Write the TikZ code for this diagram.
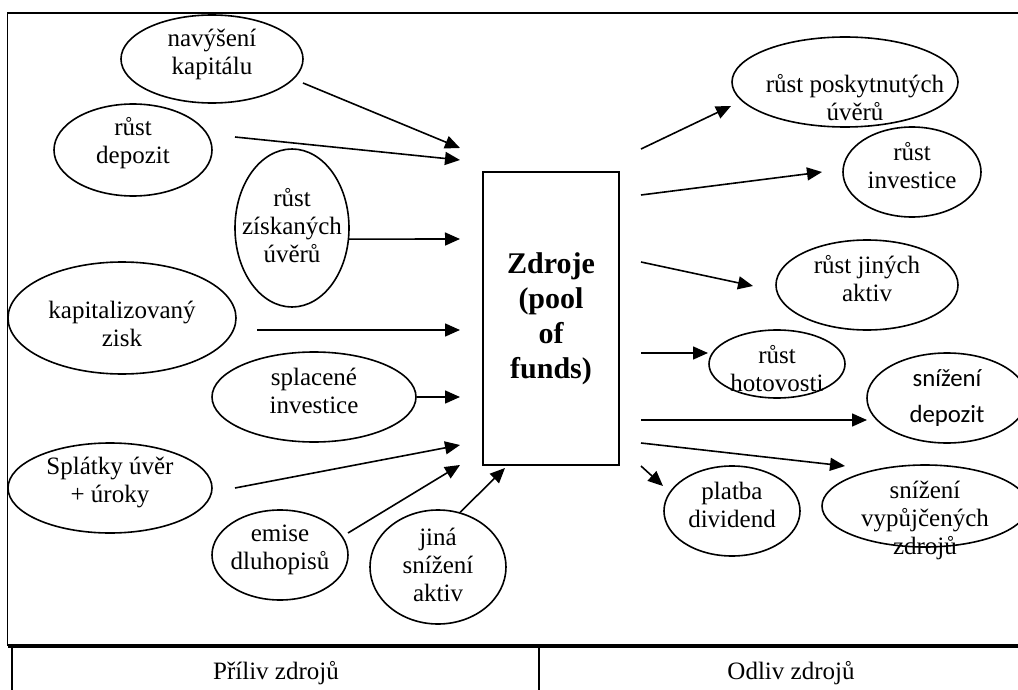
\documentclass[tikz,border=0pt]{standalone}
\usepackage{fontspec}
\setmainfont{Liberation Serif}
\newfontfamily\calibrifont{Carlito}
\usetikzlibrary{arrows.meta,shapes.geometric}

\begin{document}
\begin{tikzpicture}[x=0.5pt,y=-0.5pt]
\tikzstyle{flow}=[draw, ellipse, line width=0.8pt, inner sep=0pt]
\tikzstyle{flowtext}=[font=\fontsize{12.5}{14}\selectfont, align=center, inner sep=0pt]
\tikzstyle{sanstext}=[font=\calibrifont\fontsize{12.4}{18}\selectfont, align=center, inner sep=0pt]
\tikzstyle{pool}=[draw, line width=0.8pt, minimum width=68pt, minimum height=146.5pt, font=\fontsize{15}{17.5}\selectfont\bfseries, align=center]
\tikzstyle{line}=[draw, line width=0.8pt, -{Triangle[length=7.5pt,width=6.5pt]}]
\tikzstyle{caption}=[font=\fontsize{12.5}{14}\selectfont]

\useasboundingbox (0,0) rectangle (1018,690);
\clip (0,0) rectangle (1018,690);

% Frame and table
\draw[line width=0.9pt] (1018,12.7) -- (7.5,12.7) -- (7.5,646);
\draw[line width=1.6pt] (7.5,646) -- (1018,646);
\draw[line width=0.8pt] (12,646) -- (12,690);
\draw[line width=0.8pt] (539,646) -- (539,690);
\node[caption] (priliv) at (276,673) {Příliv zdrojů};
\node[caption] (odliv) at (791,673) {Odliv zdrojů};

% Pool of funds
\node[pool] (zdroje) at (551,318.5) {Zdroje\\(pool\\of\\funds)};

% Inflows
\node[flow, minimum width=91pt, minimum height=44pt, label={[flowtext, yshift=2.5pt]center:{navýšení\\kapitálu}}] (navyseni) at (212,59) {};
\node[flow, minimum width=79pt, minimum height=46pt, label={[flowtext, yshift=3.5pt]center:{růst\\depozit}}] (depozit) at (133,150) {};
\node[flow, minimum width=57pt, minimum height=79pt, label={[flowtext, yshift=1pt]center:{růst\\získaných\\úvěrů}}] (ziskane) at (292,228) {};
\node[flow, minimum width=114pt, minimum height=56pt, label={[flowtext, yshift=-3pt]center:{kapitalizovaný\\zisk}}] (zisk) at (122,318) {};
\node[flow, minimum width=102pt, minimum height=45pt, label={[flowtext, yshift=3pt]center:{splacené\\investice}}] (splacene) at (314,397) {};
\node[flow, minimum width=102pt, minimum height=45pt, label={[flowtext, yshift=3pt]center:{Splátky úvěr\\+ úroky}}] (splatky) at (110,488) {};
\node[flow, minimum width=68pt, minimum height=45pt, label={[flowtext, yshift=2.5pt]center:{emise\\dluhopisů}}] (emise) at (280,555) {};
\node[flow, minimum width=68pt, minimum height=57pt, label={[flowtext, yshift=1pt]center:{jiná\\snížení\\aktiv}}] (jina) at (438,567) {};

% Outflows
\node[flow, minimum width=113pt, minimum height=45pt, label={[flowtext, xshift=5pt, yshift=-8pt]center:{růst poskytnutých\\úvěrů}}] (poskytnute) at (845,82) {};
\node[flow, minimum width=69pt, minimum height=45pt, label={[flowtext, yshift=3pt]center:{růst\\investice}}] (investice) at (912,172) {};
\node[flow, minimum width=91pt, minimum height=45pt, label={[flowtext, yshift=3pt]center:{růst jiných\\aktiv}}] (aktiva) at (867,285) {};
\node[flow, minimum width=68pt, minimum height=34pt, label={[flowtext, yshift=-2.5pt]center:{růst\\hotovosti}}] (hotovost) at (777,364) {};
\node[flow, minimum width=80pt, minimum height=45pt, label={[sanstext]center:{snížení\\depozit}}] (snizenidep) at (947,398) {};
\node[flow, minimum width=68pt, minimum height=45pt, label={[flowtext, yshift=3pt]center:{platba\\dividend}}] (dividenda) at (732,511) {};
\node[flow, minimum width=103pt, minimum height=41pt, label={[flowtext, yshift=-7pt]center:{snížení\\vypůjčených\\zdrojů}}] (vypujcene) at (925,506) {};

% Arrow ends
\coordinate (navyseniA) at (303,83);
\coordinate (depozitA) at (235,137);
\coordinate (ziskA) at (257,330);
\coordinate (splatkyA) at (235,488);
\coordinate (emiseA) at (348,533);
\coordinate (in1) at (460,148);
\coordinate (in2) at (460,160);
\coordinate (in3) at (460,239);
\coordinate (in4) at (460,330);
\coordinate (in5) at (460,397);
\coordinate (in6) at (460,445);
\coordinate (in7) at (460,465);
\coordinate (in8) at (505,468);
\coordinate (out1) at (641,149);
\coordinate (out2) at (641,195);
\coordinate (out3) at (641,262);
\coordinate (out4) at (641,353);
\coordinate (out5) at (641,420);
\coordinate (out6) at (641,443);
\coordinate (out7) at (641,466);
\coordinate (poskytnuteA) at (731,106);
\coordinate (investiceA) at (822,172);
\coordinate (aktivaA) at (753,286);
\coordinate (hotovostA) at (708,353);
\coordinate (snizenidepA) at (867,420);
\coordinate (vypujceneA) at (845,466);
\coordinate (dividendaA) at (663,486);

% Inflow arrows
\draw[line] (navyseniA) -- (in1);
\draw[line] (depozitA) -- (in2);
\draw[line] (ziskane.-11) -- (in3);
\draw[line] (ziskA) -- (in4);
\draw[line] (splacene.east) -- (in5);
\draw[line] (splatkyA) -- (in6);
\draw[line] (emiseA) -- (in7);
\draw[line] (jina.68) -- (in8);

% Outflow arrows
\draw[line] (out1) -- (poskytnuteA);
\draw[line] (out2) -- (investiceA);
\draw[line] (out3) -- (aktivaA);
\draw[line] (out4) -- (hotovostA);
\draw[line] (out5) -- (snizenidepA);
\draw[line] (out6) -- (vypujceneA);
\draw[line] (out7) -- (dividendaA);
\end{tikzpicture}
\end{document}
